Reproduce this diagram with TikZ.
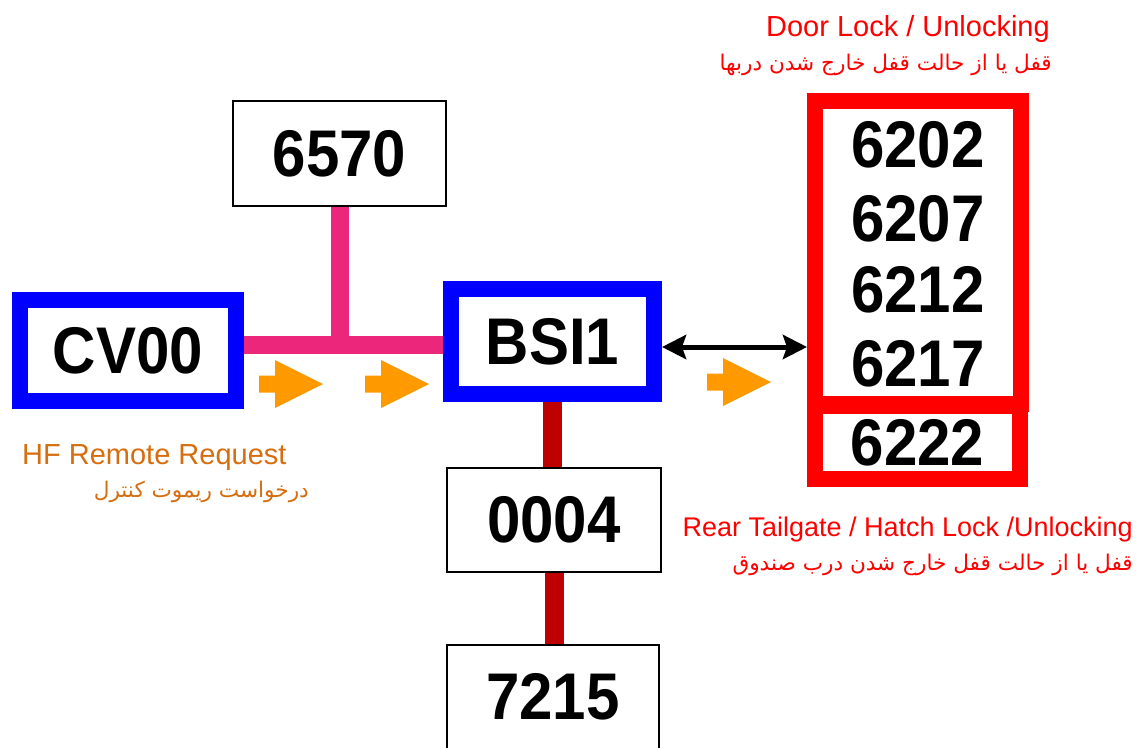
\documentclass[tikz,border=0pt]{standalone}
\usepackage{fontspec}
\setmainfont{Liberation Sans}
\newfontfamily\farsi[Script=Arabic]{DejaVu Sans}
\TeXXeTstate=1
\usetikzlibrary{arrows.meta}
\definecolor{busblue}{RGB}{0,0,255}
\definecolor{lockred}{RGB}{255,0,0}
\definecolor{buspink}{RGB}{236,38,122}
\definecolor{busdark}{RGB}{190,0,0}
\definecolor{flowamber}{RGB}{255,153,0}
\definecolor{hftext}{RGB}{214,110,16}
\newcommand{\tallnum}[1]{\scalebox{1}[1.1]{#1}}

\begin{document}
\begin{tikzpicture}[
  x=1pt, y=-1pt,
  ecu/.style={draw,line width=2.5pt,fill=white,inner sep=0pt,minimum width=213pt,minimum height=105pt,font=\fontsize{60}{60}\selectfont\bfseries},
  master/.style={ecu,draw=busblue,line width=16pt},
  lock/.style={ecu,draw=lockred,line width=16pt,minimum width=206pt},
  num/.style={inner sep=0pt,font=\fontsize{60}{60}\selectfont\bfseries},
  pinkbus/.style={buspink,line width=18pt},
  darkbus/.style={busdark,line width=19pt},
  link/.style={{Stealth[length=24pt,width=24pt,inset=4pt]}-{Stealth[length=24pt,width=24pt,inset=4pt]},line width=5pt},
  redlabel/.style={text=lockred,inner sep=0pt},
  hflabel/.style={text=hftext,inner sep=0pt},
  fatext/.style={font=\farsi\fontsize{21.6}{21.6}\selectfont},
  flow/.pic={\fill[flowamber] (0,-8.5) -- (16,-8.5) -- (16,-24) -- (64,0) -- (16,24) -- (16,8.5) -- (0,8.5) -- cycle;}
]
\clip (0,0) rectangle (1140,747);
\fill[white] (0,0) rectangle (1140,747);

% units
\node[ecu] (e6570) at (339.5,153.5) {\tallnum{6570}};
\node[master, minimum width=216pt, minimum height=101pt] (cv00) at (128,350.5) {\tallnum{CV00}};
\node[master, minimum width=203pt, minimum height=105pt] (bsi1) at (552.5,341.5) {\tallnum{BSI1}};
\node[ecu, minimum width=214pt, minimum height=104pt] (e0004) at (554,520) {\tallnum{0004}};
\node[ecu, minimum width=212pt, minimum height=104pt] (e7215) at (553,697) {\tallnum{7215}};

% lock group
\node[lock, minimum height=303pt] (doors) at (918,252.5) {};
\node[lock, minimum width=205pt, minimum height=73pt] (tail) at (917.5,442.5) {\tallnum{6222}};
\node[num] (d6202) at (918,145) {\tallnum{6202}};
\node[num] (d6207) at (918,218.5) {\tallnum{6207}};
\node[num] (d6212) at (918,290) {\tallnum{6212}};
\node[num] (d6217) at (918,363.5) {\tallnum{6217}};

% buses
\coordinate (tee) at (340,344.5);
\draw[pinkbus] (cv00.east |- tee) -- (bsi1.west |- tee);
\draw[pinkbus] (e6570.south) -- (e6570.south |- tee);
\draw[darkbus] (bsi1.south) -- (bsi1.south |- e0004.north);
\draw[darkbus] (e0004.south) -- (e0004.south |- e7215.north);
\draw[link] ([yshift=-5.5pt]bsi1.east) -- ([yshift=-5.5pt]bsi1.east -| doors.west);

% request flow
\pic at (259,384) {flow};
\pic at (365,384) {flow};
\pic at (707,382) {flow};

% labels
\node[redlabel, anchor=base east, font=\fontsize{29}{29}\selectfont] (doortitle) at (1050,36) {Door Lock / Unlocking};
\node[redlabel, fatext, anchor=base east] (doorfa) at (1052,70) {\beginR قفل یا از حالت قفل خارج شدن دربها\endR};
\node[redlabel, anchor=base east, font=\fontsize{27}{27}\selectfont] (tailtitle) at (1133,536) {Rear Tailgate / Hatch Lock /Unlocking};
\node[redlabel, fatext, anchor=base east] (tailfa) at (1133,570) {\beginR قفل یا از حالت قفل خارج شدن درب صندوق\endR};
\node[hflabel, anchor=base west, font=\fontsize{29}{29}\selectfont] (hftitle) at (22,464) {HF Remote Request};
\node[hflabel, fatext, anchor=base east] (hffa) at (309,497) {\beginR درخواست ریموت کنترل\endR};
\end{tikzpicture}
\end{document}
